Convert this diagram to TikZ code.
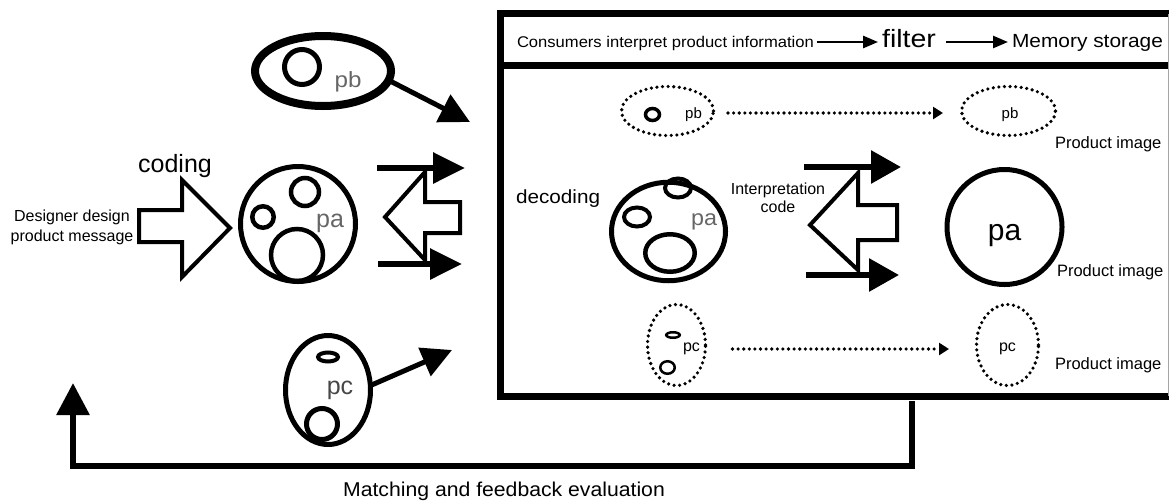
\documentclass[tikz,border=0pt]{standalone}
\usepackage{fontspec}
\setmainfont{Liberation Sans}
\usetikzlibrary{arrows.meta,shapes.geometric}
\newcommand\hsq[2]{\scalebox{#1}[1]{#2}}
\newcommand\fsz[1]{\fontsize{#1}{#1}\selectfont}
\begin{document}
\begin{tikzpicture}[x=1pt,y=-1pt,
  txt/.style={inner sep=0pt, outer sep=0pt},
  ell/.style={ellipse, draw, inner sep=0pt, outer sep=0pt},
  circ/.style={circle, draw, inner sep=0pt, outer sep=0pt},
  solidarrow/.style={line width=5pt, -{Triangle[length=30pt,width=30pt]}},
  bigarrow/.style={line width=6pt, -{Triangle[length=32pt,width=30pt]}},
  bigarrowR/.style={line width=6pt, -{Triangle[length=30pt,width=32pt]}},
  hollow/.style={line width=4pt, line join=miter, fill=white},
  dotline/.style={line width=3.6pt, dash pattern=on 0pt off 5.6pt, line cap=round},
  dotell/.style={ellipse, draw, dotline, inner sep=0pt, outer sep=0pt},
  dotarrow/.style={dotline, -{Triangle[length=10pt,width=12pt]}},
  hdarrow/.style={line width=2.5pt, -{Triangle[length=15pt,width=12pt]}},
  boxline/.style={line width=7pt},
  greytxt/.style={text=black!60}
]
\useasboundingbox (0,0) rectangle (1169,501);

% ================= left part =================
\node[txt, align=center, font={\fontsize{16}{20}\selectfont}] (designer) at (72,227) {Designer design\\product message};
\draw[hollow] (139,210) -- (182,210) -- (182,180) -- (230,228) -- (182,277) -- (182,242) -- (139,242) -- cycle;
\node[txt, anchor=base, font=\fsz{25}] (coding) at (175,172) {coding};

% pa circle (left)
\node[circ, line width=5pt, minimum size=115pt] (paL) at (298,224) {};
\node[circ, line width=4.5pt, minimum size=21.5pt] (paL1) at (263,217) {};
\node[circ, line width=4.5pt, minimum size=28pt] (paL2) at (305,192) {};
\node[circ, line width=4.5pt, minimum size=52pt] (paL3) at (297,255) {};
\node[txt, anchor=base, greytxt, font=\fsz{25}] (paLt) at (330,227) {pa};

% pb ellipse (left)
\node[ell, line width=8pt, minimum width=136pt, minimum height=70pt] (pbL) at (323,71) {};
\node[circ, line width=5pt, minimum size=35pt] (pbL1) at (302,67) {};
\node[txt, anchor=base, greytxt, font=\fsz{22}] (pbLt) at (348,87) {\hsq{1.1}{pb}};
\coordinate (pbT) at (470,122);
\draw[solidarrow] (pbL.-8) -- (pbT);

% arrow group (left)
\draw[hollow] (385,217) -- (425,172) -- (425,202) -- (460,202) -- (460,233) -- (425,233) -- (425,260) -- cycle;
\coordinate (lga) at (377,168); \coordinate (lgb) at (465,168);
\coordinate (lgc) at (378,264); \coordinate (lgd) at (462,264);
\draw[bigarrow] (lga) -- (lgb);
\draw[bigarrow] (lgc) -- (lgd);

% pc ellipse (left)
\node[ell, line width=5pt, minimum width=85pt, minimum height=109pt] (pcL) at (328,390) {};
\node[ell, line width=4pt, minimum width=20pt, minimum height=9pt] (pcL1) at (328,357) {};
\node[circ, line width=5pt, minimum size=31pt] (pcL2) at (322,424) {};
\node[txt, anchor=base, text=black!72, font=\fsz{25}] (pcLt) at (340,394) {pc};
\coordinate (pcT) at (452,350);
\draw[solidarrow] (pcL.6) -- (pcT);

% ================= box =================
\node[txt, minimum width=669pt, minimum height=382.5pt, anchor=north west] (box) at (500,13.5) {};
\draw[boxline, line join=miter] (box.north east) -- (box.north west) -- (box.south west) -- (box.south east);
\coordinate (divy) at (0,65.5);
\draw[boxline] (box.west |- divy) -- (box.east |- divy);
\draw[black!35, line width=1pt] (1168,13.5) -- (1168,396);

% header
\node[txt, anchor=base west, font=\fsz{15.5}] (cons) at (517,47) {\hsq{1.07}{Consumers interpret product information}};
\node[txt, anchor=base, font=\fsz{25}] (filt) at (909,47) {\hsq{1.14}{filter}};
\node[txt, anchor=base west, font=\fsz{19}] (mem) at (1012,47) {\hsq{1.1}{Memory storage}};
\coordinate (hy) at (0,42);
\draw[hdarrow, shorten <=3pt, shorten >=4pt] (cons.east |- hy) -- (filt.west |- hy);
\draw[hdarrow, shorten <=10pt, shorten >=4pt] (filt.east |- hy) -- (mem.west |- hy);

% pb row
\node[dotell, minimum width=92pt, minimum height=49pt] (pbA) at (667.5,111) {};
\node[ell, line width=3.5pt, minimum width=14pt, minimum height=12pt] (pbA1) at (652.5,114.5) {};
\node[txt, anchor=base, font=\fsz{15}] (pbAt) at (693.5,118) {pb};
\node[dotell, minimum width=94pt, minimum height=49pt] (pbB) at (1008.5,111) {};
\node[txt, anchor=base, font=\fsz{15}] (pbBt) at (1010,118) {pb};
\draw[dotarrow, shorten <=14.5pt, shorten >=18.5pt] ([yshift=-2pt]pbA.east) -- ([yshift=-2pt]pbB.west);
\node[txt, anchor=base west, font=\fsz{16.5}] (pi1) at (1055,148) {Product image};

% pa row
\node[ell, line width=5pt, minimum width=114pt, minimum height=98.5pt] (paD) at (668.5,231.5) {};
\node[ell, line width=4pt, minimum width=26pt, minimum height=19pt] (paD1) at (637,217) {};
\node[ell, line width=4pt, minimum width=26pt, minimum height=19pt] (paD2) at (678,188) {};
\node[ell, line width=4.5pt, minimum width=49.5pt, minimum height=37.5pt] (paD3) at (670,253) {};
\node[txt, anchor=base, greytxt, font=\fsz{22}] (paDt) at (704,225) {\hsq{1.06}{pa}};
\node[txt, anchor=base west, font=\fsz{19}] (dec) at (516,203) {\hsq{1.09}{decoding}};
\node[txt, font={\fontsize{16}{18}\selectfont}] (interp) at (778,200) {\begin{tabular}{@{}c@{}}Interpretation\\code\end{tabular}};

\draw[hollow] (810,225) -- (858,173) -- (858,205) -- (897,205) -- (897,240) -- (858,240) -- (858,270) -- cycle;
\coordinate (rga) at (804,167); \coordinate (rgb) at (901,167);
\coordinate (rgc) at (806,275); \coordinate (rgd) at (899,275);
\draw[bigarrowR] (rga) -- (rgb);
\draw[bigarrowR] (rgc) -- (rgd);

\node[circ, line width=5pt, minimum size=115pt] (paR) at (1004.5,227) {};
\node[txt, anchor=base, font=\fsz{30}] (paRt) at (1004.5,240) {pa};
\node[txt, anchor=base west, font=\fsz{16.5}] (pi2) at (1057,276) {Product image};

% pc row
\node[dotell, minimum width=58pt, minimum height=81pt] (pcA) at (676.5,345) {};
\node[ell, line width=2.5pt, minimum width=13.5pt, minimum height=5.5pt] (pcA1) at (673,335) {};
\node[ell, line width=2.5pt, minimum width=14.5pt, minimum height=12.5pt] (pcA2) at (667.5,367.5) {};
\node[txt, anchor=base, font=\fsz{16}] (pcAt) at (691.5,351) {pc};
\node[dotell, minimum width=62pt, minimum height=81pt] (pcB) at (1007.5,345) {};
\node[txt, anchor=base, font=\fsz{16}] (pcBt) at (1007.5,351) {pc};
\draw[dotarrow, shorten <=27pt, shorten >=27.5pt] ([yshift=-4pt]pcA.east) -- ([yshift=-4pt]pcB.west);
\node[txt, anchor=base west, font=\fsz{16.5}] (pi3) at (1055,369) {Product image};

% ================= feedback =================
\coordinate (fbS) at (912,401);
\coordinate (fbE) at (73,383);
\draw[line width=6pt, line join=miter, -{Triangle[length=32pt,width=32pt]}] (fbS) -- ++(0,65) -| (fbE);
\node[txt, anchor=base, font=\fsz{20}] (match) at (504,496) {\hsq{1.06}{Matching and feedback evaluation}};
\end{tikzpicture}
\end{document}
